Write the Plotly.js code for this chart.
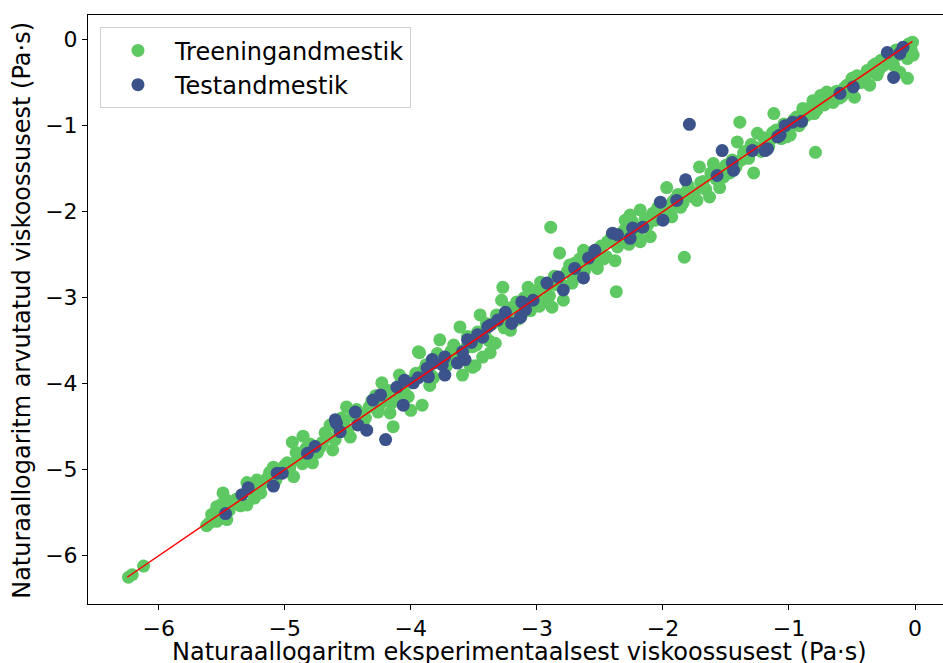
<!DOCTYPE html>
<html>
<head>
<meta charset="utf-8">
<script src="https://cdn.plot.ly/plotly-3.0.1.min.js"></script>
<style>html,body{margin:0;padding:0;background:#fff;}#chart{width:943px;height:663px;}</style>
</head>
<body>
<div id="chart"></div>
<script>
// Training set: experimental vs predicted ln(viscosity)
const trainExp = [
-6.24,-6.21,-6.12,-5.62,-5.60,-5.55,-5.54,-5.52,-5.49,-5.54,-5.46,-5.44,-5.41,-5.38,-5.30,-5.30,-5.24,-5.22,-5.20,-5.17,
-5.14,-5.11,-5.09,-5.04,-4.98,-4.96,-4.93,-4.94,-4.90,-4.88,-4.855,-4.83,-4.78,-4.74,-4.70,-4.66,-4.64,-4.62,-4.58,-4.55,
-4.51,-4.48,-4.46,-4.40,-4.38,-4.33,-4.28,-4.26,-4.23,-4.20,-4.165,-4.14,-4.12,-4.09,-4.05,-4.00,-3.98,-3.94,-3.91,-3.93,
-3.90,-3.85,-3.82,-3.77,-3.75,-3.72,-3.68,-3.64,-3.61,-3.59,-3.56,-3.53,-3.51,-3.51,-3.49,-3.47,-3.45,-3.43,-3.41,-3.37,
-3.35,-3.33,-3.28,-3.27,-3.24,-3.21,-3.18,-3.15,-3.10,-3.07,-3.05,-3.00,-2.97,-2.95,-2.89,-2.88,-2.85,-2.82,-2.79,-2.76,
-2.72,-2.70,-2.68,-2.65,-2.63,-2.60,-2.56,-2.52,-2.50,-2.47,-2.44,-2.38,-2.37,-2.36,-2.33,-2.30,-2.29,-2.26,-2.22,-2.18,
-2.18,-2.14,-2.10,-2.08,-2.04,-1.97,-1.95,-1.93,-1.90,-1.86,-1.83,-1.82,-1.78,-1.73,-1.71,-1.68,-1.63,-1.60,-1.58,-1.55,
-1.50,-1.47,-1.41,-1.39,-1.38,-1.35,-1.28,-1.30,-1.25,-1.22,-1.18,-1.15,-1.12,-1.10,-1.06,-1.02,-0.99,-0.96,-0.92,-0.89,
-0.86,-0.81,-0.79,-0.78,-0.75,-0.72,-0.70,-0.65,-0.62,-0.58,-0.54,-0.50,-0.48,-0.45,-0.41,-0.38,-0.36,-0.33,-0.30,-0.27,
-0.25,-0.20,-0.17,-0.15,-0.12,-0.10,-0.06,-0.06,-0.04,-0.02,-0.015,
-5.58,-5.50,-5.45,-5.35,-5.27,-5.19,-5.12,-5.07,-5.00,-4.91,-4.86,-4.80,-4.72,-4.68,-4.60,-4.53,-4.50,-4.43,-4.36,-4.31,
-4.25,-4.18,-4.15,-4.08,-4.02,-3.96,-3.88,-3.84,-3.79,-3.70,-3.66,-3.62,-3.55,-3.48,-3.40,-3.38,-3.32,-3.26,-3.22,-3.16,
-3.12,-3.08,-3.02,-2.98,-2.93,-2.90,-2.86,-2.80,-2.74,-2.71,-2.66,-2.62,-2.58,-2.54,-2.49,-2.45,-2.41,-2.35,-2.31,-2.27,
-2.24,-2.20,-2.12,-2.06,-2.01,-1.98,-1.92,-1.88,-1.84,-1.80,-1.75,-1.70,-1.66,-1.62,-1.56,-1.52,-1.45,-1.42,-1.36,-1.32,
-1.27,-1.20,-1.16,-1.13,-1.08,-1.04,-1.00,-0.94,-0.90,-0.84,-0.80,-0.76,-0.68,-0.64,-0.60,-0.56,-0.52,-0.46,-0.43,-0.39,
-0.34,-0.31,-0.28,-0.22,-0.18,-0.14,-0.09,-0.05,-0.03
];
const trainPred = [
-6.25,-6.22,-6.12,-5.65,-5.62,-5.55,-5.60,-5.49,-5.27,-5.43,-5.58,-5.47,-5.39,-5.34,-5.15,-5.41,-5.33,-5.12,-5.20,-5.15,
-5.10,-5.06,-4.97,-5.00,-4.92,-4.98,-5.08,-4.68,-4.88,-4.85,-4.61,-4.75,-4.92,-4.80,-4.68,-4.62,-4.48,-4.77,-4.52,-4.40,
-4.27,-4.62,-4.38,-4.35,-4.46,-4.27,-4.14,-4.33,-3.99,-4.20,-4.34,-4.50,-4.18,-3.90,-4.10,-4.31,-3.95,-3.63,-4.25,-3.64,
-3.85,-4.02,-3.93,-3.49,-3.70,-3.80,-3.62,-3.75,-3.34,-3.90,-3.58,-3.79,-3.57,-3.81,-3.79,-3.40,-3.20,-3.69,-3.45,-3.64,
-3.30,-3.53,-3.03,-2.88,-3.22,-3.38,-3.10,-3.25,-3.00,-2.88,-3.15,-2.95,-2.82,-3.05,-2.18,-3.11,-2.85,-2.48,-3.03,-2.70,
-2.83,-2.60,-2.59,-2.72,-2.45,-2.62,-2.50,-2.66,-2.42,-2.55,-2.35,-2.57,-2.93,-2.41,-2.30,-2.10,-2.25,-2.04,-2.20,-2.35,
-1.98,-2.08,-2.29,-2.02,-1.95,-1.72,-1.98,-2.06,-1.85,-1.95,-2.53,-1.78,-1.82,-1.87,-1.48,-1.65,-1.83,-1.44,-1.62,-1.72,
-1.46,-1.55,-1.19,-0.96,-1.40,-1.30,-1.55,-1.22,-1.09,-1.30,-1.20,-1.17,-0.86,-1.05,-1.15,-1.13,-1.11,-0.93,-1.00,-0.80,
-0.88,-0.71,-1.31,-0.82,-0.65,-0.76,-0.61,-0.73,-0.60,-0.66,-0.53,-0.45,-0.67,-0.50,-0.45,-0.36,-0.53,-0.30,-0.41,-0.24,
-0.30,-0.25,-0.30,-0.12,-0.38,-0.10,-0.22,-0.45,-0.08,-0.03,-0.18,
-5.52,-5.40,-5.36,-5.42,-5.22,-5.27,-5.03,-5.12,-4.95,-4.80,-4.93,-4.70,-4.74,-4.57,-4.65,-4.47,-4.55,-4.30,-4.40,-4.20,
-4.25,-4.08,-4.22,-4.00,-4.15,-3.88,-3.78,-3.90,-3.65,-3.72,-3.55,-3.68,-3.45,-3.55,-3.30,-3.50,-3.20,-3.35,-3.12,-3.05,
-3.20,-3.08,-2.92,-3.10,-2.88,-2.98,-2.75,-2.85,-2.62,-2.76,-2.55,-2.68,-2.48,-2.60,-2.40,-2.52,-2.30,-2.33,-2.22,-2.38,
-2.12,-2.28,-2.15,-2.10,-1.92,-2.05,-1.88,-1.80,-1.90,-1.70,-1.78,-1.66,-1.74,-1.55,-1.52,-1.60,-1.40,-1.48,-1.32,-1.38,
-1.25,-1.14,-1.24,-1.08,-1.10,-0.98,-1.04,-0.90,-0.96,-0.80,-0.86,-0.72,-0.68,-0.62,-0.68,-0.56,-0.58,-0.42,-0.50,-0.40,
-0.38,-0.28,-0.34,-0.20,-0.22,-0.18,-0.14,-0.05,-0.12
];
// Test set
const testExp = [
-5.47,-5.34,-5.29,-5.09,-5.06,-5.02,-4.82,-4.76,-4.60,-4.56,-4.59,-4.44,-4.42,-4.35,-4.30,-4.24,-4.20,-4.11,-4.06,-4.05,
-3.98,-3.94,-3.87,-3.86,-3.83,-3.82,-3.75,-3.73,-3.73,-3.63,-3.59,-3.57,-3.55,-3.52,-3.47,-3.43,-3.39,-3.37,-3.31,-3.25,
-3.20,-3.13,-3.12,-3.09,-3.03,-2.92,-2.83,-2.79,-2.70,-2.63,-2.59,-2.54,-2.40,-2.36,-2.26,-2.24,-2.16,-2.02,-2.00,-1.89,
-1.82,-1.79,-1.57,-1.53,-1.45,-1.44,-1.29,-1.19,-1.17,-1.09,-1.07,-1.03,-0.97,-0.90,-0.595,-0.49,-0.22,-0.17,-0.12,-0.095
];
const testPred = [
-5.51,-5.29,-5.21,-5.19,-5.04,-5.04,-4.81,-4.73,-4.42,-4.56,-4.46,-4.33,-4.48,-4.54,-4.19,-4.13,-4.65,-4.04,-4.25,-3.96,
-3.99,-3.93,-3.82,-3.92,-3.72,-3.76,-3.78,-3.90,-3.69,-3.76,-3.63,-3.72,-3.49,-3.52,-3.43,-3.46,-3.34,-3.32,-3.26,-3.17,
-3.30,-3.23,-3.05,-3.14,-3.03,-2.83,-2.76,-2.91,-2.66,-2.77,-2.54,-2.45,-2.25,-2.27,-2.31,-2.19,-2.18,-1.89,-2.10,-1.87,
-1.63,-0.985,-1.58,-1.29,-1.43,-1.52,-1.29,-1.29,-1.27,-1.13,-1.11,-1.00,-0.96,-0.95,-0.625,-0.55,-0.15,-0.44,-0.16,-0.09
];
// Ideal y = x line endpoints (data min / max)
const idealLine = [-6.25, -0.02];

const FONT = 'DejaVu Sans, sans-serif';
const traces = [
  {x: trainExp, y: trainPred, type: 'scatter', mode: 'markers', name: 'Treeningandmestik',
   marker: {color: '#5ec962', size: 13, line: {width: 0}}},
  {x: testExp, y: testPred, type: 'scatter', mode: 'markers', name: 'Testandmestik',
   marker: {color: '#3b528b', size: 13, line: {width: 0}}},
  {x: idealLine, y: idealLine, type: 'scatter', mode: 'lines', showlegend: false,
   line: {color: '#ff0000', width: 1.5}}
];
const layout = {
  width: 943, height: 663,
  margin: {l: 88, r: 0, t: 15, b: 59},
  paper_bgcolor: '#fff', plot_bgcolor: '#fff',
  font: {family: FONT, color: '#000'},
  showlegend: true,
  legend: {x: 0.014, y: 0.979, xanchor: 'left', yanchor: 'top',
    bgcolor: 'rgba(255,255,255,0.8)', bordercolor: '#d0d0d0', borderwidth: 1,
    font: {family: FONT, size: 24, color: '#000'}, itemwidth: 64, tracegroupgap: 0},
  xaxis: {range: [-6.561, 0.222], tickvals: [-6,-5,-4,-3,-2,-1,0], showgrid: false, zeroline: false,
    showline: true, linecolor: '#000', linewidth: 1, mirror: true,
    ticks: 'outside', ticklen: 5, tickwidth: 1, tickcolor: '#000',
    tickfont: {family: FONT, size: 22, color: '#000'}},
  yaxis: {range: [-6.561, 0.286], tickvals: [-6,-5,-4,-3,-2,-1,0], showgrid: false, zeroline: false,
    showline: true, linecolor: '#000', linewidth: 1, mirror: false,
    ticks: 'outside', ticklen: 5, tickwidth: 1, tickcolor: '#000',
    tickfont: {family: FONT, size: 22, color: '#000'}},
  annotations: [
    {text: 'Naturaallogaritm eksperimentaalsest viskoossusest (Pa·s)', xref: 'paper', yref: 'paper',
     x: 0.5047, y: -0.081, xanchor: 'center', yanchor: 'middle', showarrow: false,
     font: {family: FONT, size: 24, color: '#000'}},
    {text: 'Naturaallogaritm arvutatud viskoossusest (Pa·s)', xref: 'paper', yref: 'paper',
     x: -0.0775, y: 0.499, xanchor: 'center', yanchor: 'middle', showarrow: false, textangle: -90,
     font: {family: FONT, size: 24, color: '#000'}}
  ]
};
Plotly.newPlot('chart', traces, layout, {displayModeBar: false, staticPlot: true});
</script>
</body>
</html>
